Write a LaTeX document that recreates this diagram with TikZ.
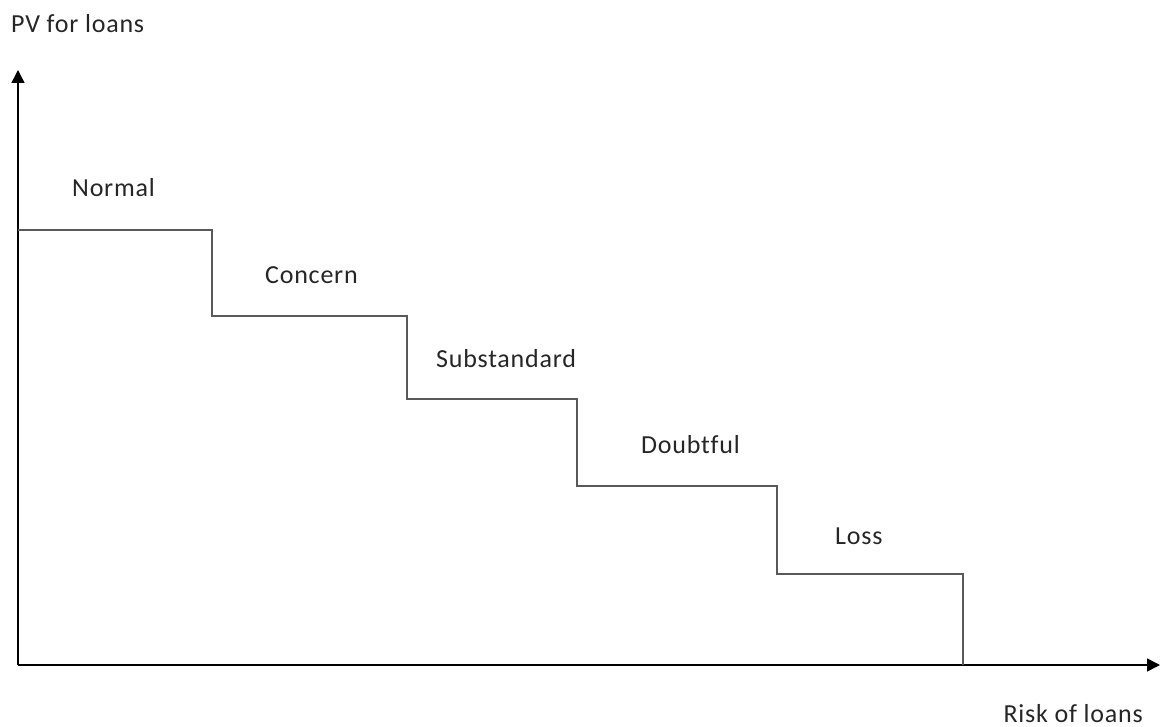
\documentclass[tikz,border=0pt]{standalone}
\usepackage{fontspec}
\setmainfont{Carlito}[LetterSpace=3,Ligatures=NoCommon]
\usetikzlibrary{arrows.meta}
\begin{document}
\begin{tikzpicture}[x=1pt,y=-1pt,
  axis/.style={line width=1.5pt,black,-{Triangle[width=13pt,length=13pt]}},
  stair/.style={line width=1.6pt,draw=black!65,line join=miter},
  lbl/.style={inner sep=0pt,font=\fontsize{26}{30}\selectfont,text=black!85}]
\useasboundingbox (0,0) rectangle (1162,727);
% axes
\coordinate (O) at (18,665);
\coordinate (ytip) at (18,70);
\coordinate (xtip) at (1160,665);
\draw[axis] (O) -- (ytip);
\draw[axis] (O) -- (xtip);
% staircase of loan categories
\coordinate (s0) at (18,230);
\coordinate (s1) at (212,230);
\coordinate (s2) at (212,316);
\coordinate (s3) at (407,316);
\coordinate (s4) at (407,399);
\coordinate (s5) at (577,399);
\coordinate (s6) at (577,486);
\coordinate (s7) at (777,486);
\coordinate (s8) at (777,574);
\coordinate (s9) at (963,574);
\coordinate (s10) at (963,665);
\draw[stair] (s0) -- (s1) -- (s2) -- (s3) -- (s4) -- (s5) -- (s6) -- (s7) -- (s8) -- (s9) -- (s10);
% labels
\node[lbl,anchor=base west] (ylab) at (11,33) {PV for loans};
\node[lbl,anchor=base east] (xlab) at (1143,722) {Risk of loans};
\node[lbl,anchor=base west] (normal) at (72,197) {Normal};
\node[lbl,anchor=base west] (concern) at (265,284) {Concern};
\node[lbl,anchor=base west] (substd) at (436,367) {Substandard};
\node[lbl,anchor=base west] (doubt) at (641,453) {Doubtful};
\node[lbl,anchor=base west] (loss) at (835,544) {Loss};
\end{tikzpicture}
\end{document}
